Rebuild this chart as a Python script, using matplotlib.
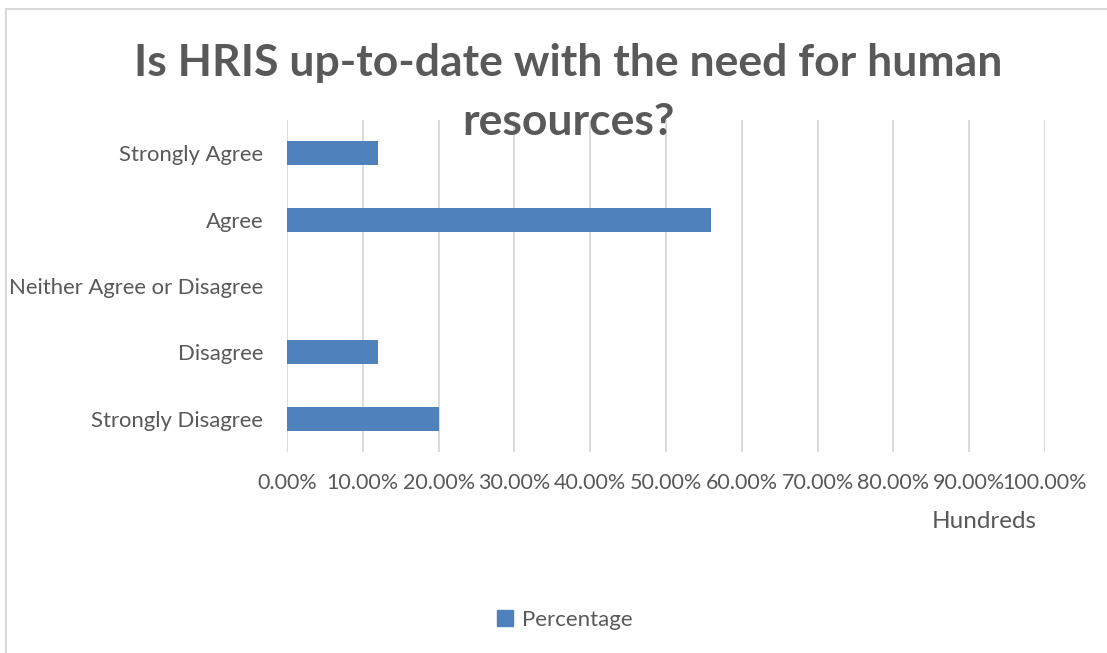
import matplotlib
matplotlib.use("Agg")
import matplotlib.pyplot as plt
import numpy as np
from matplotlib.lines import Line2D
from matplotlib.patches import Patch

categories = ["Strongly Disagree", "Disagree", "Neither Agree or Disagree", "Agree", "Strongly Agree"]
percentage = [20, 12, 0, 56, 12]
x_ticks = [0, 10, 20, 30, 40, 50, 60, 70, 80, 90, 100]

bar_color = "#4F81BD"
text_color = "#595959"
grid_color = "#D9D9D9"

plt.rcParams["font.family"] = ["Lato", "DejaVu Sans"]

fig = plt.figure(figsize=(11.07, 6.53), dpi=100)
ax = fig.add_axes([287 / 1107, 1 - 452 / 653, (1045 - 287) / 1107, (452 - 120) / 653])

y = np.arange(len(categories))
ax.barh(y, percentage, height=0.36, color=bar_color, zorder=3)

ax.set_xlim(0, 100)
ax.set_ylim(-0.5, len(categories) - 0.5)
ax.set_xticks(x_ticks)
ax.set_xticklabels(["{:.2f}%".format(v) for v in x_ticks])
ax.set_yticks(y)
ax.set_yticklabels(categories)
ax.grid(axis="x", color=grid_color, linewidth=1.3, zorder=0)
for s in ax.spines.values():
    s.set_visible(False)
ax.tick_params(axis="both", length=0, colors=text_color)
ax.tick_params(axis="x", pad=15, labelsize=15.5)
ax.tick_params(axis="y", pad=17, labelsize=15.9)

fig.text(568 / 1107, 1 - 63 / 653, "Is HRIS up-to-date with the need for human",
         ha="center", va="center", fontsize=32, fontweight="bold", color=text_color)
fig.text(568 / 1107, 1 - 122 / 653, "resources?",
         ha="center", va="center", fontsize=32, fontweight="bold", color=text_color)

fig.text(984 / 1107, 1 - 521 / 653, "Hundreds", ha="center", va="center", fontsize=17.5, color=text_color)

fig.legend(handles=[Patch(color=bar_color, label="Percentage")], loc="center",
           bbox_to_anchor=(565 / 1107, 1 - 620 / 653), frameon=False, fontsize=16,
           handlelength=0.7, handleheight=0.7, handletextpad=0.4, labelcolor=text_color)

# chart frame (top and left edges visible)
fig.add_artist(Line2D([6 / 1107, 6 / 1107], [0, 1 - 9 / 653], transform=fig.transFigure,
                      color=grid_color, linewidth=1.5))
fig.add_artist(Line2D([6 / 1107, 1], [1 - 9 / 653, 1 - 9 / 653], transform=fig.transFigure,
                      color=grid_color, linewidth=1.5))

fig.savefig("out.png", dpi=100)
